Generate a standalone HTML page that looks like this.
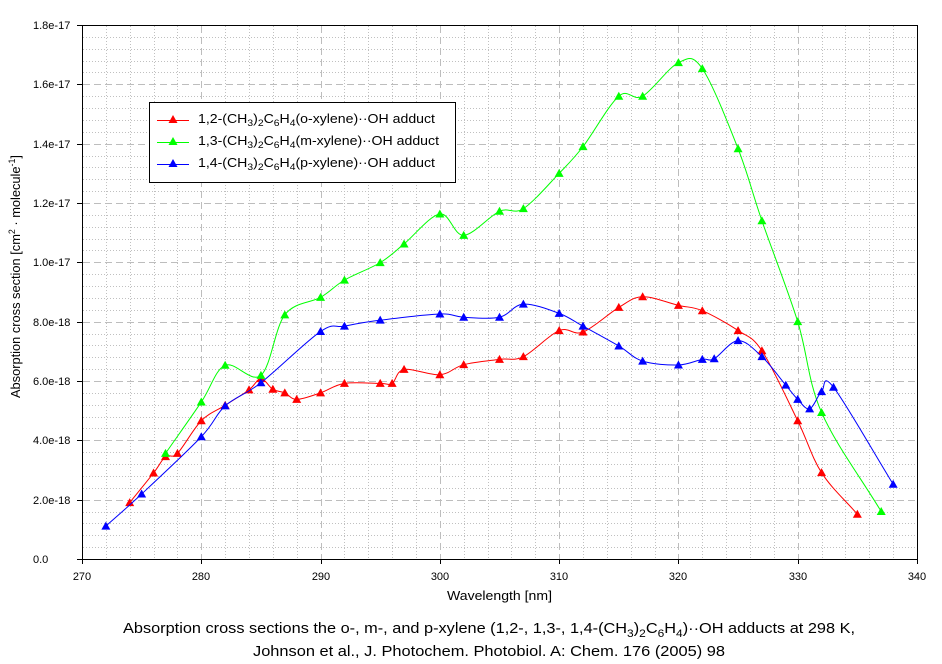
<!DOCTYPE html>
<html>
<head>
<meta charset="utf-8">
<style>
  html,body{margin:0;padding:0;background:#fff;}
  svg{display:block;}
  text{font-family:"Liberation Sans",Arial,sans-serif;fill:#000;}
</style>
</head>
<body>
<svg id="c" xmlns="http://www.w3.org/2000/svg" width="942" height="664" viewBox="0 0 942 664">
  <rect x="0" y="0" width="942" height="664" fill="#fff"/>
  <g id="grid"></g>
  <g id="series"></g>
  <!-- frame -->
  <rect x="82.5" y="25.5" width="835" height="534" fill="none" stroke="#000" stroke-width="1" shape-rendering="crispEdges"/>
  <g id="ticks" stroke="#000" stroke-width="1" shape-rendering="crispEdges"></g>
  <g id="ticklabels" font-size="11"></g>

  <!-- legend -->
  <rect x="149.5" y="102.5" width="306" height="80" fill="#fff" stroke="#000" stroke-width="1" shape-rendering="crispEdges"/>
  <g id="legend"></g>
  <text x="198" y="123" font-size="13" textLength="237" lengthAdjust="spacingAndGlyphs">1,2-(CH<tspan font-size="9.5" dy="3">3</tspan><tspan dy="-3">)</tspan><tspan font-size="9.5" dy="3">2</tspan><tspan dy="-3">C</tspan><tspan font-size="9.5" dy="3">6</tspan><tspan dy="-3">H</tspan><tspan font-size="9.5" dy="3">4</tspan><tspan dy="-3">(o-xylene)··OH adduct</tspan></text>
  <text x="198" y="145" font-size="13" textLength="241" lengthAdjust="spacingAndGlyphs">1,3-(CH<tspan font-size="9.5" dy="3">3</tspan><tspan dy="-3">)</tspan><tspan font-size="9.5" dy="3">2</tspan><tspan dy="-3">C</tspan><tspan font-size="9.5" dy="3">6</tspan><tspan dy="-3">H</tspan><tspan font-size="9.5" dy="3">4</tspan><tspan dy="-3">(m-xylene)··OH adduct</tspan></text>
  <text x="198" y="167" font-size="13" textLength="237" lengthAdjust="spacingAndGlyphs">1,4-(CH<tspan font-size="9.5" dy="3">3</tspan><tspan dy="-3">)</tspan><tspan font-size="9.5" dy="3">2</tspan><tspan dy="-3">C</tspan><tspan font-size="9.5" dy="3">6</tspan><tspan dy="-3">H</tspan><tspan font-size="9.5" dy="3">4</tspan><tspan dy="-3">(p-xylene)··OH adduct</tspan></text>

  <!-- axis titles -->
  <text x="447" y="600" font-size="13" textLength="105" lengthAdjust="spacingAndGlyphs">Wavelength [nm]</text>
  <text transform="translate(20,276.5) rotate(-90)" x="0" y="0" font-size="13" text-anchor="middle" textLength="243" lengthAdjust="spacingAndGlyphs">Absorption cross section [cm<tspan font-size="9" dy="-5">2</tspan><tspan dy="5"> · molecule</tspan><tspan font-size="9" dy="-5">-1</tspan><tspan dy="5">]</tspan></text>

  <!-- caption -->
  <text x="123" y="633" font-size="15" textLength="732" lengthAdjust="spacingAndGlyphs">Absorption cross sections the o-, m-, and p-xylene (1,2-, 1,3-, 1,4-(CH<tspan font-size="11" dy="4">3</tspan><tspan dy="-4">)</tspan><tspan font-size="11" dy="4">2</tspan><tspan dy="-4">C</tspan><tspan font-size="11" dy="4">6</tspan><tspan dy="-4">H</tspan><tspan font-size="11" dy="4">4</tspan><tspan dy="-4">)··OH adducts at 298 K,</tspan></text>
  <text x="253" y="656" font-size="15" textLength="472" lengthAdjust="spacingAndGlyphs">Johnson et al., J. Photochem. Photobiol. A: Chem. 176 (2005) 98</text>
</svg>
<script>
(function(){
  var NS="http://www.w3.org/2000/svg";
  function X(l){return 82+(l-270)*835/70;}
  function Y(v){return 559-v*534/18;}
  function el(tag,attrs,parent){var e=document.createElementNS(NS,tag);for(var k in attrs)e.setAttribute(k,attrs[k]);parent.appendChild(e);return e;}
  var grid=document.getElementById('grid');
  for(var l=272;l<340;l+=2){
    if(l%10===0)continue;
    var x=Math.round(X(l))+0.5;
    el('line',{x1:x,y1:26,x2:x,y2:559,stroke:'#c0c0c0','stroke-width':1,'stroke-dasharray':'1 2','shape-rendering':'crispEdges'},grid);
  }
  for(var i=1;i<45;i++){
    if(i%5===0)continue;
    var v=i*0.4;
    var y=Math.round(Y(v))+0.5;
    el('line',{x1:83,y1:y,x2:917,y2:y,stroke:'#c0c0c0','stroke-width':1,'stroke-dasharray':'1 2','shape-rendering':'crispEdges'},grid);
  }
  for(var l=280;l<340;l+=10){
    var x=Math.round(X(l))+0.5;
    el('line',{x1:x,y1:26,x2:x,y2:559,stroke:'#bdbdbd','stroke-width':1,'stroke-dasharray':'7 4','shape-rendering':'crispEdges'},grid);
  }
  for(var v=2;v<18;v+=2){
    var y=Math.round(Y(v))+0.5;
    el('line',{x1:83,y1:y,x2:917,y2:y,stroke:'#bdbdbd','stroke-width':1,'stroke-dasharray':'7 4','shape-rendering':'crispEdges'},grid);
  }
  var ticks=document.getElementById('ticks'), tl=document.getElementById('ticklabels');
  for(var l=270;l<=340;l+=10){
    var x=Math.round(X(l))+0.5;
    el('line',{x1:x,y1:559,x2:x,y2:564},ticks);
    var t=el('text',{x:Math.round(X(l)),y:580,'text-anchor':'middle'},tl);t.textContent=String(l);
  }
  var ylab=["0.0","2.0e-18","4.0e-18","6.0e-18","8.0e-18","1.0e-17","1.2e-17","1.4e-17","1.6e-17","1.8e-17"];
  for(var i=0;i<=9;i++){
    var v=i*2;var y=Math.round(Y(v))+0.5;
    el('line',{x1:77,y1:y,x2:82,y2:y},ticks);
    var t=el('text',{x:33,y:Math.round(Y(v))+4},tl);t.textContent=ylab[i];
  }
  var red=[[274,1.90],[276,2.90],[277,3.45],[278,3.56],[280,4.66],[282,5.18],[284,5.70],[285,6.08],[286,5.72],[287,5.60],[288,5.38],[290,5.60],[292,5.92],[295,5.92],[296,5.92],[297,6.39],[300,6.21],[302,6.55],[305,6.73],[307,6.82],[310,7.70],[312,7.65],[315,8.48],[317,8.84],[320,8.55],[322,8.37],[325,7.70],[327,7.02],[330,4.66],[332,2.91],[335,1.51]];
  var green=[[277,3.56],[280,5.29],[282,6.53],[285,6.19],[287,8.23],[290,8.82],[292,9.40],[295,9.99],[297,10.62],[300,11.63],[302,10.91],[305,11.72],[307,11.81],[310,13.0],[312,13.9],[315,15.6],[317,15.6],[320,16.73],[322,16.53],[325,13.83],[327,11.40],[330,8.0],[332,4.94],[337,1.6]];
  var blue=[[272,1.11],[275,2.19],[280,4.12],[282,5.16],[285,5.94],[290,7.67],[292,7.85],[295,8.05],[300,8.26],[302,8.15],[305,8.15],[307,8.59],[310,8.28],[312,7.85],[315,7.18],[317,6.67],[320,6.54],[322,6.73],[323,6.75],[325,7.36],[327,6.82],[329,5.86],[330,5.38],[331,5.06],[332,5.64],[333,5.79],[338,2.52]];
  function crPath(p){
    var P=p.map(function(q){return [X(q[0]),Y(q[1])];});
    var n=P.length;
    var s="M"+P[0][0].toFixed(2)+" "+P[0][1].toFixed(2);
    for(var i=0;i<n-1;i++){
      var p0=P[i>0?i-1:i],p1=P[i],p2=P[i+1],p3=P[i+2<n?i+2:i+1];
      var t1x=(p2[0]-p0[0])/2,t1y=(p2[1]-p0[1])/2;
      var t2x=(p3[0]-p1[0])/2,t2y=(p3[1]-p1[1])/2;
      if(i===0){t1x=(p2[0]-p1[0]);t1y=(p2[1]-p1[1]);t1x/=1;t1y/=1;}
      if(i===n-2){t2x=(p2[0]-p1[0]);t2y=(p2[1]-p1[1]);}
      var c1x=p1[0]+t1x/3,c1y=p1[1]+t1y/3,c2x=p2[0]-t2x/3,c2y=p2[1]-t2y/3;
      s+=" C"+c1x.toFixed(2)+" "+c1y.toFixed(2)+" "+c2x.toFixed(2)+" "+c2y.toFixed(2)+" "+p2[0].toFixed(2)+" "+p2[1].toFixed(2);
    }
    return s;
  }
  function tri(cx,cy){return (cx).toFixed(2)+","+(cy-4.5).toFixed(2)+" "+(cx+4.5).toFixed(2)+","+(cy+3.5).toFixed(2)+" "+(cx-4.5).toFixed(2)+","+(cy+3.5).toFixed(2);}
  var ser=document.getElementById('series');
  function draw(p,col){
    var g=el('g',{},ser);
    el('path',{d:crPath(p),fill:'none',stroke:col,'stroke-width':1,'stroke-linejoin':'round'},g);
    for(var i=0;i<p.length;i++){
      el('polygon',{points:tri(X(p[i][0]),Y(p[i][1])),fill:col,stroke:'none'},g);
    }
  }
  draw(red,'#ff0000');draw(green,'#00ff00');draw(blue,'#0000ff');
  var lg=document.getElementById('legend');
  var rows=[[120.5,'#ff0000'],[142.5,'#00ff00'],[164.5,'#0000ff']];
  for(var r=0;r<3;r++){
    el('line',{x1:157,y1:rows[r][0],x2:189,y2:rows[r][0],stroke:rows[r][1],'stroke-width':1},lg);
    el('polygon',{points:tri(173,rows[r][0]-1),fill:rows[r][1]},lg);
  }
})();
</script>
</body>
</html>
